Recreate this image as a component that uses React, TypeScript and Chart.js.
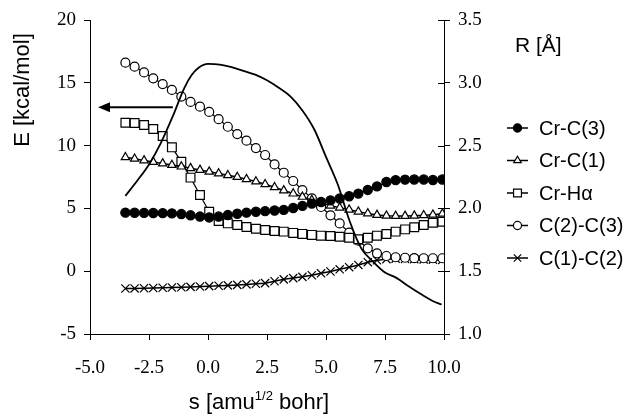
import React, { useEffect, useRef } from "react";
import { Chart, registerables } from "chart.js";

Chart.register(...registerables);

// Reaction coordinate s [amu^1/2 bohr] of the sampled geometries
const S_POINTS = [
  -3.5, -3.11, -2.71, -2.32, -1.92, -1.53, -1.13, -0.74, -0.34, 0.05,
  0.45, 0.84, 1.24, 1.63, 2.03, 2.42, 2.82, 3.21, 3.61, 4.0,
  4.4, 4.79, 5.19, 5.58, 5.98, 6.37, 6.77, 7.16, 7.56, 7.95,
  8.35, 8.74, 9.14, 9.53, 9.93,
];

// Bond distances R [Å]
const CR_C3 = [
  1.966, 1.965, 1.964, 1.963, 1.962, 1.96, 1.955, 1.945, 1.935, 1.928,
  1.935, 1.947, 1.957, 1.966, 1.973, 1.978, 1.983, 1.988, 2.003, 2.02,
  2.038, 2.051, 2.064, 2.079, 2.097, 2.118, 2.147, 2.175, 2.21, 2.225,
  2.229, 2.23, 2.23, 2.226, 2.23,
];
const CR_C1 = [
  2.407, 2.395, 2.382, 2.37, 2.358, 2.345, 2.333, 2.32, 2.306, 2.292,
  2.278, 2.264, 2.25, 2.233, 2.214, 2.192, 2.168, 2.143, 2.118, 2.092,
  2.066, 2.042, 2.022, 2.006, 1.99, 1.974, 1.96, 1.948, 1.942, 1.94,
  1.94, 1.942, 1.945, 1.95, 1.958,
];
const CR_HA = [
  2.682, 2.68, 2.664, 2.632, 2.576, 2.486, 2.372, 2.245, 2.107, 1.974,
  1.9, 1.881, 1.868, 1.852, 1.838, 1.828, 1.82, 1.815, 1.805, 1.797,
  1.789, 1.783, 1.78, 1.775, 1.767, 1.755, 1.767, 1.783, 1.796, 1.815,
  1.833, 1.85, 1.868, 1.886, 1.894,
];
const C2_C3 = [
  3.16, 3.128, 3.083, 3.036, 2.99, 2.943, 2.89, 2.848, 2.81, 2.768,
  2.71, 2.65, 2.592, 2.539, 2.48, 2.425, 2.35, 2.284, 2.218, 2.146,
  2.08, 2.011, 1.945, 1.88, 1.807, 1.743, 1.682, 1.642, 1.621, 1.611,
  1.607, 1.604, 1.603, 1.603, 1.603,
];
const C1_C2 = [
  1.362, 1.363, 1.364, 1.366, 1.368, 1.37, 1.372, 1.375, 1.378, 1.381,
  1.384, 1.387, 1.391, 1.395, 1.4, 1.405, 1.42, 1.435, 1.445, 1.455,
  1.468, 1.483, 1.498, 1.515, 1.532, 1.55, 1.572, 1.587, 1.596, 1.6,
  1.598, 1.596, 1.594, 1.592, 1.59,
];

// Energy profile E [kcal/mol]
const ENERGY_S = [
  -3.5, -3.0, -2.5, -2.0, -1.5, -1.0, -0.7, -0.4, 0.0, 0.5,
  1.0, 1.5, 2.0, 2.5, 3.0, 3.5, 4.0, 4.5, 5.0, 5.5,
  6.0, 6.5, 7.0, 7.5, 8.0, 8.5, 9.0, 9.5, 9.9,
];
const ENERGY_E = [
  6.0, 7.2, 8.5, 10.2, 12.3, 14.6, 15.6, 16.2, 16.5, 16.45,
  16.25, 15.95, 15.65, 15.2, 14.6, 13.9, 12.8, 11.3, 9.1, 6.9,
  4.0, 1.8, 0.75, -0.1, -0.55, -1.2, -1.8, -2.35, -2.65,
];

const X_TITLE_MAIN = "s [amu";
const X_TITLE_SUP = "1/2";
const X_TITLE_END = " bohr]";
const Y_TITLE = "E [kcal/mol]";
const Y2_TITLE = "R [Å]";

// arrow pointing to the energy axis
const ARROW_FROM_S = -1.49;
const ARROW_TO_S = -4.66;
const ARROW_E = 13.05;

const SANS = "'Liberation Sans', Arial, sans-serif";
const SERIF = "'Liberation Serif', 'Times New Roman', serif";

type Marker = { style: string; filled: boolean; r: number };

function drawMarker(ctx: CanvasRenderingContext2D, m: Marker, x: number, y: number) {
  ctx.save();
  ctx.lineWidth = 1.2;
  ctx.strokeStyle = "#000";
  ctx.fillStyle = m.filled ? "#000" : "#fff";
  ctx.beginPath();
  const r = m.r;
  if (m.style === "circle") {
    ctx.arc(x, y, r, 0, Math.PI * 2);
    ctx.fill();
    ctx.stroke();
  } else if (m.style === "triangle") {
    const h = r * 1.5;
    ctx.moveTo(x, y - r);
    ctx.lineTo(x + r * 0.866, y + h - r);
    ctx.lineTo(x - r * 0.866, y + h - r);
    ctx.closePath();
    ctx.fill();
    ctx.stroke();
  } else if (m.style === "rect") {
    const a = r / Math.SQRT2;
    ctx.rect(x - a, y - a, 2 * a, 2 * a);
    ctx.fill();
    ctx.stroke();
  } else if (m.style === "crossRot") {
    const a = r * 0.7071;
    ctx.moveTo(x - a, y - a);
    ctx.lineTo(x + a, y + a);
    ctx.moveTo(x + a, y - a);
    ctx.lineTo(x - a, y + a);
    ctx.stroke();
  }
  ctx.restore();
}

const overlayPlugin = {
  id: "overlay",
  afterDraw(chart: any) {
    const ctx: CanvasRenderingContext2D = chart.ctx;
    const xs = chart.scales.x;
    const ys = chart.scales.y;
    const y1 = chart.scales.y1;
    ctx.save();

    // right axis ticks crossing the axis line
    ctx.strokeStyle = "#000";
    ctx.lineWidth = 1;
    const rx = chart.chartArea.right;
    y1.ticks.forEach((t: any) => {
      const py = Math.round(y1.getPixelForValue(t.value)) + 0.5;
      ctx.beginPath();
      ctx.moveTo(rx - 6, py);
      ctx.lineTo(rx, py);
      ctx.stroke();
    });

    // arrow
    const ax0 = xs.getPixelForValue(ARROW_FROM_S);
    const ax1 = xs.getPixelForValue(ARROW_TO_S);
    const ay = ys.getPixelForValue(ARROW_E);
    ctx.lineWidth = 2;
    ctx.beginPath();
    ctx.moveTo(ax0, ay);
    ctx.lineTo(ax1 + 8, ay);
    ctx.stroke();
    ctx.fillStyle = "#000";
    ctx.beginPath();
    ctx.moveTo(ax1, ay);
    ctx.lineTo(ax1 + 12, ay - 5);
    ctx.lineTo(ax1 + 12, ay + 5);
    ctx.closePath();
    ctx.fill();

    // left title
    ctx.fillStyle = "#000";
    ctx.font = `22px ${SANS}`;
    ctx.textAlign = "center";
    ctx.textBaseline = "middle";
    ctx.save();
    ctx.translate(23, 90);
    ctx.rotate(-Math.PI / 2);
    ctx.fillText(Y_TITLE, 0, 0);
    ctx.restore();

    // right title
    ctx.textAlign = "left";
    ctx.textBaseline = "alphabetic";
    ctx.font = `21px ${SANS}`;
    ctx.fillText(Y2_TITLE, 515, 52);

    // x title with superscript
    const mainFont = `22px ${SANS}`;
    const supFont = `13px ${SANS}`;
    ctx.font = mainFont;
    const w1 = ctx.measureText(X_TITLE_MAIN).width;
    const w3 = ctx.measureText(X_TITLE_END).width;
    ctx.font = supFont;
    const w2 = ctx.measureText(X_TITLE_SUP).width;
    const total = w1 + w2 + w3;
    const cx = (chart.chartArea.left + chart.chartArea.right) / 2 - 8;
    let tx = cx - total / 2;
    const base = 409;
    ctx.font = mainFont;
    ctx.fillText(X_TITLE_MAIN, tx, base);
    tx += w1;
    ctx.font = supFont;
    ctx.fillText(X_TITLE_SUP, tx, base - 9);
    tx += w2;
    ctx.font = mainFont;
    ctx.fillText(X_TITLE_END, tx, base);

    // legend
    const rows = chart.data.datasets.filter((d: any) => d.marker);
    ctx.font = `20px ${SANS}`;
    ctx.textBaseline = "middle";
    rows.forEach((d: any, i: number) => {
      const ry = 128 + i * 32.5;
      ctx.strokeStyle = "#000";
      ctx.lineWidth = 1.5;
      ctx.beginPath();
      ctx.moveTo(507, ry);
      ctx.lineTo(528, ry);
      ctx.stroke();
      drawMarker(ctx, { ...d.marker, r: d.marker.r * 0.9 }, 517.5, ry);
      ctx.fillStyle = "#000";
      ctx.fillText(d.label, 539, ry + 1);
    });

    ctx.restore();
  },
};

function series(label: string, values: number[], marker: Marker, lineWidth = 1.2) {
  return {
    label,
    marker,
    yAxisID: "y1",
    data: values.map((v, i) => ({ x: S_POINTS[i], y: v })),
    borderColor: "#000",
    borderWidth: lineWidth,
    pointStyle: marker.style,
    pointRadius: marker.r,
    pointBorderWidth: 1.2,
    pointBorderColor: "#000",
    pointBackgroundColor: marker.filled ? "#000" : "#fff",
    tension: 0,
  };
}

export default function App() {
  const ref = useRef<HTMLCanvasElement>(null);

  useEffect(() => {
    if (!ref.current) return;
    const datasets: any[] = [
      {
        label: "E",
        yAxisID: "y",
        data: ENERGY_S.map((s, i) => ({ x: s, y: ENERGY_E[i] })),
        borderColor: "#000",
        borderWidth: 1.8,
        pointRadius: 0,
        cubicInterpolationMode: "monotone",
      },
      series("Cr-C(3)", CR_C3, { style: "circle", filled: true, r: 4.6 }),
      series("Cr-C(1)", CR_C1, { style: "triangle", filled: false, r: 4.8 }, 1.5),
      series("Cr-Hα", CR_HA, { style: "rect", filled: false, r: 6.2 }),
      series("C(2)-C(3)", C2_C3, { style: "circle", filled: false, r: 4.5 }),
      series("C(1)-C(2)", C1_C2, { style: "crossRot", filled: false, r: 5.8 }, 1.5),
    ];

    const tickFont = { family: SERIF, size: 19 };
    const chart = new Chart(ref.current, {
      type: "line",
      data: { datasets },
      options: {
        responsive: false,
        animation: false,
        devicePixelRatio: 1,
        layout: { padding: { top: 20, left: 0, right: 0, bottom: 0 } },
        plugins: { legend: { display: false }, tooltip: { enabled: false } },
        scales: {
          x: {
            type: "linear",
            min: -5,
            max: 10,
            ticks: {
              stepSize: 2.5,
              color: "#000",
              font: tickFont,
              padding: 17,
              callback: (v: any) => Number(v).toFixed(1),
            },
            grid: { drawOnChartArea: false, drawTicks: true, tickLength: 6, tickColor: "#000" },
            border: { color: "#000", width: 1 },
            afterFit: (s: any) => {
              s.height = 80;
            },
          },
          y: {
            position: "left",
            min: -5,
            max: 20,
            ticks: { stepSize: 5, color: "#000", font: tickFont, padding: 8 },
            grid: { drawOnChartArea: false, drawTicks: true, tickLength: 6, tickColor: "#000" },
            border: { color: "#000", width: 1 },
            afterFit: (s: any) => {
              s.width = 90;
            },
          },
          y1: {
            position: "right",
            min: 1,
            max: 3.5,
            ticks: {
              stepSize: 0.5,
              color: "#000",
              font: tickFont,
              padding: 8,
              callback: (v: any) => Number(v).toFixed(1),
            },
            grid: { drawOnChartArea: false, drawTicks: true, tickLength: 6, tickColor: "#000" },
            border: { color: "#000", width: 1 },
            afterFit: (s: any) => {
              s.width = 182;
            },
          },
        },
      } as any,
      plugins: [overlayPlugin],
    });
    return () => chart.destroy();
  }, []);

  return (
    <div style={{ position: "fixed", left: 0, top: 0, width: 626, height: 414, background: "#fff" }}>
      <canvas ref={ref} width={626} height={414} style={{ display: "block" }} />
    </div>
  );
}
